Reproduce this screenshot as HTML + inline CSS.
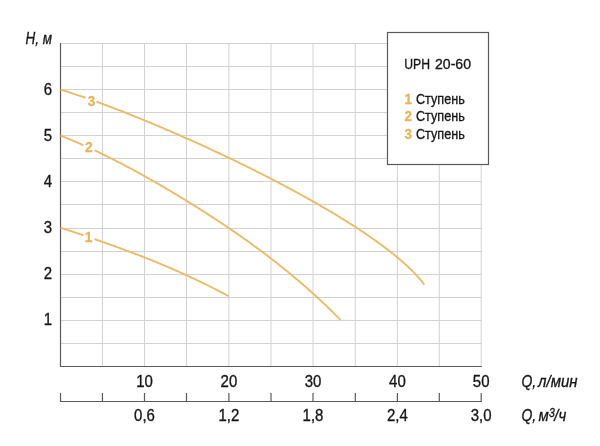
<!DOCTYPE html>
<html><head><meta charset="utf-8"><style>
html,body{margin:0;padding:0;background:#fff;}
svg{display:block;will-change:transform;}
</style></head><body>
<svg width="600" height="446" viewBox="0 0 600 446">
<rect width="600" height="446" fill="#fff"/>
<line x1="102.45" y1="43.00" x2="102.45" y2="366.50" stroke="#d2d2d4" stroke-width="1"/>
<line x1="144.50" y1="43.00" x2="144.50" y2="366.50" stroke="#d2d2d4" stroke-width="1"/>
<line x1="186.50" y1="43.00" x2="186.50" y2="366.50" stroke="#d2d2d4" stroke-width="1"/>
<line x1="228.90" y1="43.00" x2="228.90" y2="366.50" stroke="#d2d2d4" stroke-width="1"/>
<line x1="271.00" y1="43.00" x2="271.00" y2="366.50" stroke="#d2d2d4" stroke-width="1"/>
<line x1="313.00" y1="43.00" x2="313.00" y2="366.50" stroke="#d2d2d4" stroke-width="1"/>
<line x1="355.30" y1="43.00" x2="355.30" y2="366.50" stroke="#d2d2d4" stroke-width="1"/>
<line x1="397.40" y1="43.00" x2="397.40" y2="366.50" stroke="#d2d2d4" stroke-width="1"/>
<line x1="439.30" y1="43.00" x2="439.30" y2="366.50" stroke="#d2d2d4" stroke-width="1"/>
<line x1="481.20" y1="43.00" x2="481.20" y2="366.50" stroke="#d2d2d4" stroke-width="1"/>
<line x1="60.50" y1="43.50" x2="481.70" y2="43.50" stroke="#d2d2d4" stroke-width="1"/>
<line x1="60.50" y1="66.50" x2="481.70" y2="66.50" stroke="#d2d2d4" stroke-width="1"/>
<line x1="60.50" y1="89.50" x2="481.70" y2="89.50" stroke="#d2d2d4" stroke-width="1"/>
<line x1="60.50" y1="112.50" x2="481.70" y2="112.50" stroke="#d2d2d4" stroke-width="1"/>
<line x1="60.50" y1="135.50" x2="481.70" y2="135.50" stroke="#d2d2d4" stroke-width="1"/>
<line x1="60.50" y1="158.50" x2="481.70" y2="158.50" stroke="#d2d2d4" stroke-width="1"/>
<line x1="60.50" y1="181.50" x2="481.70" y2="181.50" stroke="#d2d2d4" stroke-width="1"/>
<line x1="60.50" y1="204.50" x2="481.70" y2="204.50" stroke="#d2d2d4" stroke-width="1"/>
<line x1="60.50" y1="228.50" x2="481.70" y2="228.50" stroke="#d2d2d4" stroke-width="1"/>
<line x1="60.50" y1="251.50" x2="481.70" y2="251.50" stroke="#d2d2d4" stroke-width="1"/>
<line x1="60.50" y1="274.50" x2="481.70" y2="274.50" stroke="#d2d2d4" stroke-width="1"/>
<line x1="60.50" y1="297.50" x2="481.70" y2="297.50" stroke="#d2d2d4" stroke-width="1"/>
<line x1="60.50" y1="320.50" x2="481.70" y2="320.50" stroke="#d2d2d4" stroke-width="1"/>
<line x1="60.50" y1="343.50" x2="481.70" y2="343.50" stroke="#d2d2d4" stroke-width="1"/>
<path d="M60.5,43.0 V366.5 H481.7" fill="none" stroke="#5a5a5a" stroke-width="1.2"/>
<path d="M60.50,393 V401.5 M102.45,393 V401.5 M144.50,393 V401.5 M186.50,393 V401.5 M228.90,393 V401.5 M271.00,393 V401.5 M313.00,393 V401.5 M355.30,393 V401.5 M397.40,393 V401.5 M439.30,393 V401.5 M481.20,393 V401.5  M59.9,401.5 H481.8" fill="none" stroke="#5a5a5a" stroke-width="1.2"/>
<g fill="none" stroke="#eabb68" stroke-width="1.9">
<path d="M60.50,89.60 L61.15,89.80 L61.81,89.99 L62.48,90.20 L63.15,90.40 L63.83,90.61 L64.51,90.82 L65.19,91.03 L65.88,91.24 L66.58,91.46 L67.28,91.68 L67.99,91.90 L68.70,92.13 L69.41,92.36 L70.13,92.59 L70.86,92.82 L71.59,93.06 L72.32,93.30 L73.06,93.54 L73.80,93.79 L74.55,94.03 L75.31,94.28 L76.07,94.53 L76.83,94.79 L77.59,95.05 L78.37,95.31 L79.14,95.57 L79.92,95.83 L80.71,96.10 L81.50,96.37 L82.29,96.64 L83.09,96.92 L83.89,97.20 L84.70,97.48 L85.51,97.76 M96.43,101.65 L97.30,101.97 L98.17,102.29 L99.05,102.61 L99.92,102.93 L100.81,103.26 L101.69,103.59 L102.58,103.92 L103.48,104.25 L104.38,104.58 L105.28,104.92 L106.18,105.26 L107.09,105.60 L108.00,105.94 L108.92,106.29 L109.83,106.64 L110.76,106.99 L111.68,107.34 L112.61,107.69 L113.54,108.05 L114.48,108.41 L115.42,108.77 L116.36,109.13 L117.30,109.50 L118.25,109.87 L119.20,110.23 L120.16,110.61 L121.11,110.98 L122.07,111.36 L123.04,111.73 L124.00,112.11 L124.97,112.49 L125.95,112.88 L126.92,113.26 L127.90,113.65 L128.88,114.04 L129.86,114.43 L130.85,114.83 L131.84,115.22 L132.83,115.62 L133.83,116.02 L134.82,116.42 L135.82,116.82 L136.83,117.23 L137.83,117.64 L138.84,118.05 L139.85,118.46 L140.86,118.87 L141.88,119.28 L142.89,119.70 L143.91,120.12 L144.94,120.54 L145.96,120.96 L146.99,121.39 L148.02,121.81 L149.05,122.24 L150.08,122.67 L151.12,123.10 L152.16,123.53 L153.20,123.97 L154.24,124.40 L155.28,124.84 L156.33,125.28 L157.38,125.72 L158.43,126.17 L159.48,126.61 L160.54,127.06 L161.59,127.51 L162.65,127.96 L163.71,128.41 L164.77,128.86 L165.84,129.32 L166.90,129.77 L167.97,130.23 L169.04,130.69 L170.11,131.15 L171.18,131.61 L172.25,132.08 L173.33,132.55 L174.40,133.01 L175.48,133.48 L176.56,133.95 L177.64,134.42 L178.73,134.90 L179.81,135.37 L180.89,135.85 L181.98,136.33 L183.07,136.81 L184.16,137.29 L185.25,137.77 L186.34,138.26 L187.43,138.74 L188.53,139.23 L189.62,139.72 L190.72,140.21 L191.81,140.70 L192.91,141.19 L194.01,141.68 L195.11,142.18 L196.21,142.68 L197.32,143.17 L198.42,143.67 L199.52,144.17 L200.63,144.68 L201.73,145.18 L202.84,145.68 L203.95,146.19 L205.05,146.70 L206.16,147.21 L207.27,147.72 L208.38,148.23 L209.49,148.74 L210.60,149.25 L211.71,149.77 L212.82,150.28 L213.94,150.80 L215.05,151.32 L216.16,151.84 L217.28,152.36 L218.39,152.88 L219.50,153.40 L220.62,153.93 L221.73,154.45 L222.85,154.98 L223.96,155.51 L225.08,156.03 L226.19,156.56 L227.31,157.09 L228.43,157.63 L229.54,158.16 L230.66,158.69 L231.77,159.23 L232.89,159.76 L234.00,160.30 L235.12,160.84 L236.23,161.38 L237.35,161.92 L238.47,162.46 L239.58,163.00 L240.70,163.54 L241.81,164.08 L242.92,164.63 L244.04,165.17 L245.15,165.72 L246.26,166.27 L247.38,166.82 L248.49,167.37 L249.60,167.92 L250.71,168.47 L251.82,169.02 L252.93,169.57 L254.04,170.12 L255.15,170.68 L256.26,171.23 L257.37,171.79 L258.47,172.35 L259.58,172.90 L260.68,173.46 L261.79,174.02 L262.89,174.58 L264.00,175.14 L265.10,175.70 L266.20,176.26 L267.30,176.83 L268.40,177.39 L269.50,177.95 L270.59,178.52 L271.69,179.08 L272.78,179.65 L273.88,180.22 L274.97,180.79 L276.06,181.35 L277.15,181.92 L278.24,182.49 L279.33,183.06 L280.41,183.63 L281.50,184.20 L282.58,184.77 L283.67,185.35 L284.75,185.92 L285.83,186.49 L286.90,187.07 L287.98,187.64 L289.06,188.22 L290.13,188.79 L291.20,189.37 L292.27,189.94 L293.34,190.52 L294.41,191.10 L295.47,191.68 L296.53,192.25 L297.59,192.83 L298.65,193.41 L299.71,193.99 L300.77,194.57 L301.82,195.15 L302.87,195.73 L303.92,196.31 L304.97,196.89 L306.02,197.48 L307.06,198.06 L308.10,198.64 L309.14,199.22 L310.18,199.81 L311.22,200.39 L312.25,200.97 L313.28,201.56 L314.31,202.14 L315.34,202.73 L316.36,203.31 L317.38,203.90 L318.40,204.48 L319.42,205.07 L320.44,205.65 L321.45,206.24 L322.46,206.82 L323.47,207.41 L324.47,208.00 L325.47,208.58 L326.47,209.17 L327.47,209.76 L328.46,210.35 L329.46,210.93 L330.44,211.52 L331.43,212.11 L332.41,212.69 L333.39,213.28 L334.37,213.87 L335.35,214.46 L336.32,215.05 L337.29,215.63 L338.25,216.22 L339.22,216.81 L340.18,217.40 L341.13,217.99 L342.09,218.57 L343.04,219.16 L343.99,219.75 L344.93,220.34 L345.87,220.92 L346.81,221.51 L347.74,222.10 L348.68,222.69 L349.60,223.28 L350.53,223.86 L351.45,224.45 L352.37,225.04 L353.28,225.62 L354.19,226.21 L355.10,226.80 L356.00,227.39 L356.91,227.97 L357.80,228.56 L358.70,229.14 L359.59,229.73 L360.47,230.32 L361.35,230.90 L362.23,231.49 L363.11,232.07 L363.98,232.66 L364.84,233.24 L365.71,233.83 L366.57,234.41 L367.42,234.99 L368.27,235.58 L369.12,236.16 L369.97,236.74 L370.81,237.33 L371.64,237.91 L372.47,238.49 L373.30,239.07 L374.12,239.65 L374.94,240.23 L375.76,240.81 L376.57,241.39 L377.37,241.97 L378.18,242.55 L378.97,243.13 L379.77,243.71 L380.56,244.29 L381.34,244.87 L382.12,245.44 L382.90,246.02 L383.67,246.59 L384.43,247.17 L385.19,247.75 L385.95,248.32 L386.70,248.89 L387.45,249.47 L388.20,250.04 L388.94,250.61 L389.67,251.18 L390.40,251.76 L391.12,252.33 L391.84,252.90 L392.56,253.47 L393.27,254.03 L393.97,254.60 L394.67,255.17 L395.37,255.74 L396.06,256.30 L396.74,256.87 L397.42,257.43 L398.10,258.00 L398.77,258.56 L399.43,259.12 L400.09,259.69 L400.74,260.25 L401.39,260.81 L402.04,261.37 L402.67,261.93 L403.31,262.49 L403.93,263.04 L404.56,263.60 L405.17,264.16 L405.79,264.71 L406.39,265.27 L406.99,265.82 L407.59,266.37 L408.18,266.92 L408.76,267.48 L409.34,268.03 L409.91,268.58 L410.48,269.12 L411.04,269.67 L411.59,270.22 L412.14,270.76 L412.68,271.31 L413.22,271.85 L413.75,272.40 L414.28,272.94 L414.80,273.48 L415.31,274.02 L415.82,274.56 L416.32,275.10 L416.82,275.63 L417.31,276.17 L417.79,276.70 L418.27,277.24 L418.74,277.77 L419.21,278.30 L419.67,278.83 L420.12,279.36 L420.57,279.89 L421.01,280.42 L421.44,280.95 L421.87,281.47 L422.29,282.00 L422.71,282.52 L423.11,283.04 L423.52,283.56 L423.91,284.08 L424.30,284.60"/>
<path d="M60.50,135.64 L61.50,136.02 L62.50,136.41 L63.50,136.80 L64.50,137.20 L65.50,137.59 L66.50,137.99 L67.50,138.40 L68.50,138.80 L69.50,139.21 L70.50,139.62 L71.50,140.04 L72.50,140.45 L73.50,140.87 L74.50,141.30 L75.50,141.72 L76.50,142.15 L77.50,142.58 L78.50,143.01 L79.50,143.45 L80.50,143.88 L81.50,144.32 L82.50,144.77 L83.50,145.21 M94.50,150.26 L95.50,150.73 L96.50,151.20 L97.50,151.68 L98.50,152.16 L99.50,152.64 L100.50,153.12 L101.50,153.60 L102.50,154.09 L103.50,154.58 L104.50,155.07 L105.50,155.56 L106.50,156.05 L107.50,156.55 L108.50,157.05 L109.50,157.55 L110.50,158.05 L111.50,158.55 L112.50,159.06 L113.50,159.57 L114.50,160.08 L115.50,160.59 L116.50,161.10 L117.50,161.61 L118.50,162.13 L119.50,162.65 L120.50,163.17 L121.50,163.69 L122.50,164.21 L123.50,164.74 L124.50,165.26 L125.50,165.79 L126.50,166.32 L127.50,166.85 L128.50,167.38 L129.50,167.92 L130.50,168.45 L131.50,168.99 L132.50,169.53 L133.50,170.07 L134.50,170.61 L135.50,171.16 L136.50,171.70 L137.50,172.25 L138.50,172.80 L139.50,173.35 L140.50,173.90 L141.50,174.45 L142.50,175.01 L143.50,175.56 L144.50,176.12 L145.50,176.68 L146.50,177.24 L147.50,177.80 L148.50,178.36 L149.50,178.93 L150.50,179.49 L151.50,180.06 L152.50,180.63 L153.50,181.20 L154.50,181.77 L155.50,182.34 L156.50,182.92 L157.50,183.49 L158.50,184.07 L159.50,184.65 L160.50,185.22 L161.50,185.81 L162.50,186.39 L163.50,186.97 L164.50,187.56 L165.50,188.14 L166.50,188.73 L167.50,189.32 L168.50,189.91 L169.50,190.50 L170.50,191.09 L171.50,191.69 L172.50,192.28 L173.50,192.88 L174.50,193.48 L175.50,194.08 L176.50,194.68 L177.50,195.28 L178.50,195.88 L179.50,196.49 L180.50,197.10 L181.50,197.70 L182.50,198.31 L183.50,198.92 L184.50,199.53 L185.50,200.15 L186.50,200.76 L187.50,201.38 L188.50,201.99 L189.50,202.61 L190.50,203.23 L191.50,203.85 L192.50,204.48 L193.50,205.10 L194.50,205.73 L195.50,206.35 L196.50,206.98 L197.50,207.61 L198.50,208.24 L199.50,208.87 L200.50,209.51 L201.50,210.14 L202.50,210.78 L203.50,211.42 L204.50,212.06 L205.50,212.70 L206.50,213.34 L207.50,213.99 L208.50,214.63 L209.50,215.28 L210.50,215.93 L211.50,216.58 L212.50,217.23 L213.50,217.88 L214.50,218.54 L215.50,219.19 L216.50,219.85 L217.50,220.51 L218.50,221.17 L219.50,221.83 L220.50,222.50 L221.50,223.16 L222.50,223.83 L223.50,224.50 L224.50,225.17 L225.50,225.84 L226.50,226.52 L227.50,227.19 L228.50,227.87 L229.50,228.55 L230.50,229.23 L231.50,229.92 L232.50,230.60 L233.50,231.29 L234.50,231.98 L235.50,232.67 L236.50,233.36 L237.50,234.05 L238.50,234.75 L239.50,235.45 L240.50,236.14 L241.50,236.85 L242.50,237.55 L243.50,238.26 L244.50,238.96 L245.50,239.67 L246.50,240.38 L247.50,241.10 L248.50,241.81 L249.50,242.53 L250.50,243.25 L251.50,243.97 L252.50,244.70 L253.50,245.42 L254.50,246.15 L255.50,246.88 L256.50,247.61 L257.50,248.35 L258.50,249.09 L259.50,249.83 L260.50,250.57 L261.50,251.31 L262.50,252.06 L263.50,252.81 L264.50,253.56 L265.50,254.31 L266.50,255.07 L267.50,255.83 L268.50,256.59 L269.50,257.36 L270.50,258.12 L271.50,258.89 L272.50,259.66 L273.50,260.44 L274.50,261.21 L275.50,261.99 L276.50,262.78 L277.50,263.56 L278.50,264.35 L279.50,265.14 L280.50,265.93 L281.50,266.73 L282.50,267.53 L283.50,268.33 L284.50,269.14 L285.50,269.94 L286.50,270.76 L287.50,271.57 L288.50,272.39 L289.50,273.21 L290.50,274.03 L291.50,274.86 L292.50,275.69 L293.50,276.52 L294.50,277.36 L295.50,278.20 L296.50,279.04 L297.50,279.88 L298.50,280.73 L299.50,281.59 L300.50,282.44 L301.50,283.30 L302.50,284.17 L303.50,285.03 L304.50,285.90 L305.50,286.78 L306.50,287.66 L307.50,288.54 L308.50,289.42 L309.50,290.31 L310.50,291.20 L311.50,292.10 L312.50,293.00 L313.50,293.90 L314.50,294.81 L315.50,295.72 L316.50,296.64 L317.50,297.56 L318.50,298.49 L319.50,299.41 L320.50,300.35 L321.50,301.28 L322.50,302.22 L323.50,303.17 L324.50,304.12 L325.50,305.07 L326.50,306.03 L327.50,306.99 L328.50,307.96 L329.50,308.93 L330.50,309.91 L331.50,310.89 L332.50,311.87 L333.50,312.86 L334.50,313.86 L335.50,314.86 L336.50,315.86 L337.50,316.87 L338.50,317.89 L339.50,318.91 L340.50,319.93 L340.60,320.03"/>
<path d="M60.50,227.72 L61.50,228.05 L62.50,228.37 L63.50,228.70 L64.50,229.03 L65.50,229.35 L66.50,229.68 L67.50,230.01 L68.50,230.34 L69.50,230.67 L70.50,230.99 L71.50,231.32 L72.50,231.65 L73.50,231.99 L74.50,232.32 L75.50,232.65 L76.50,232.98 L77.50,233.31 L78.50,233.65 L79.50,233.98 L80.50,234.32 L81.50,234.65 L82.50,234.99 L83.50,235.33 M94.50,239.07 L95.50,239.42 L96.50,239.76 L97.50,240.11 L98.50,240.46 L99.50,240.80 L100.50,241.15 L101.50,241.50 L102.50,241.85 L103.50,242.20 L104.50,242.56 L105.50,242.91 L106.50,243.26 L107.50,243.62 L108.50,243.97 L109.50,244.33 L110.50,244.69 L111.50,245.04 L112.50,245.40 L113.50,245.76 L114.50,246.12 L115.50,246.49 L116.50,246.85 L117.50,247.21 L118.50,247.58 L119.50,247.94 L120.50,248.31 L121.50,248.68 L122.50,249.05 L123.50,249.42 L124.50,249.79 L125.50,250.16 L126.50,250.53 L127.50,250.91 L128.50,251.28 L129.50,251.66 L130.50,252.04 L131.50,252.41 L132.50,252.79 L133.50,253.17 L134.50,253.56 L135.50,253.94 L136.50,254.32 L137.50,254.71 L138.50,255.10 L139.50,255.48 L140.50,255.87 L141.50,256.26 L142.50,256.66 L143.50,257.05 L144.50,257.44 L145.50,257.84 L146.50,258.23 L147.50,258.63 L148.50,259.03 L149.50,259.43 L150.50,259.83 L151.50,260.24 L152.50,260.64 L153.50,261.05 L154.50,261.45 L155.50,261.86 L156.50,262.27 L157.50,262.68 L158.50,263.10 L159.50,263.51 L160.50,263.93 L161.50,264.34 L162.50,264.76 L163.50,265.18 L164.50,265.60 L165.50,266.03 L166.50,266.45 L167.50,266.88 L168.50,267.30 L169.50,267.73 L170.50,268.16 L171.50,268.59 L172.50,269.03 L173.50,269.46 L174.50,269.90 L175.50,270.34 L176.50,270.78 L177.50,271.22 L178.50,271.66 L179.50,272.11 L180.50,272.55 L181.50,273.00 L182.50,273.45 L183.50,273.90 L184.50,274.35 L185.50,274.81 L186.50,275.26 L187.50,275.72 L188.50,276.18 L189.50,276.64 L190.50,277.11 L191.50,277.57 L192.50,278.04 L193.50,278.51 L194.50,278.98 L195.50,279.45 L196.50,279.92 L197.50,280.40 L198.50,280.87 L199.50,281.35 L200.50,281.83 L201.50,282.32 L202.50,282.80 L203.50,283.29 L204.50,283.78 L205.50,284.27 L206.50,284.76 L207.50,285.25 L208.50,285.75 L209.50,286.25 L210.50,286.75 L211.50,287.25 L212.50,287.75 L213.50,288.26 L214.50,288.77 L215.50,289.28 L216.50,289.79 L217.50,290.30 L218.50,290.82 L219.50,291.34 L220.50,291.86 L221.50,292.38 L222.50,292.90 L223.50,293.43 L224.50,293.96 L225.50,294.49 L226.50,295.02 L227.50,295.55 L228.50,296.09 L228.70,296.20"/>
</g>
<g font-family="'Liberation Sans', sans-serif">
<text transform="translate(91.40,105.50) scale(0.9,0.97)" font-size="15" text-anchor="middle" font-style="normal" font-weight="bold" fill="#e9b45a" stroke="#e9b45a" stroke-width="0.3">3</text>
<text transform="translate(88.90,152.40) scale(0.92,1.01)" font-size="15" text-anchor="middle" font-style="normal" font-weight="bold" fill="#e9b45a" stroke="#e9b45a" stroke-width="0.3">2</text>
<text transform="translate(88.70,241.80) scale(0.92,0.97)" font-size="15" text-anchor="middle" font-style="normal" font-weight="bold" fill="#e9b45a" stroke="#e9b45a" stroke-width="0.3">1</text>
</g>
<g font-family="'Liberation Sans', sans-serif">
<text transform="translate(52.00,324.64) scale(1.0,1.08)" font-size="15" text-anchor="end" font-style="normal" font-weight="normal" fill="#161616" stroke="#161616" stroke-width="0.3">1</text>
<text transform="translate(52.00,279.40) scale(1.0,1.08)" font-size="15" text-anchor="end" font-style="normal" font-weight="normal" fill="#161616" stroke="#161616" stroke-width="0.3">2</text>
<text transform="translate(52.00,233.26) scale(1.0,1.08)" font-size="15" text-anchor="end" font-style="normal" font-weight="normal" fill="#161616" stroke="#161616" stroke-width="0.3">3</text>
<text transform="translate(52.00,187.12) scale(1.0,1.08)" font-size="15" text-anchor="end" font-style="normal" font-weight="normal" fill="#161616" stroke="#161616" stroke-width="0.3">4</text>
<text transform="translate(52.00,140.98) scale(1.0,1.08)" font-size="15" text-anchor="end" font-style="normal" font-weight="normal" fill="#161616" stroke="#161616" stroke-width="0.3">5</text>
<text transform="translate(52.00,94.84) scale(1.0,1.08)" font-size="15" text-anchor="end" font-style="normal" font-weight="normal" fill="#161616" stroke="#161616" stroke-width="0.3">6</text>
<text transform="translate(52.00,43.90) scale(0.9,1.06)" font-size="15" text-anchor="end" font-style="italic" font-weight="normal" fill="#161616" stroke="#161616" stroke-width="0.3">H, м</text>
<text transform="translate(144.50,386.60) scale(1.0,1.07)" font-size="15" text-anchor="middle" font-style="normal" font-weight="normal" fill="#161616" stroke="#161616" stroke-width="0.3">10</text>
<text transform="translate(228.90,386.60) scale(1.0,1.07)" font-size="15" text-anchor="middle" font-style="normal" font-weight="normal" fill="#161616" stroke="#161616" stroke-width="0.3">20</text>
<text transform="translate(313.00,386.60) scale(1.0,1.07)" font-size="15" text-anchor="middle" font-style="normal" font-weight="normal" fill="#161616" stroke="#161616" stroke-width="0.3">30</text>
<text transform="translate(397.40,386.60) scale(1.0,1.07)" font-size="15" text-anchor="middle" font-style="normal" font-weight="normal" fill="#161616" stroke="#161616" stroke-width="0.3">40</text>
<text transform="translate(481.20,386.60) scale(1.0,1.07)" font-size="15" text-anchor="middle" font-style="normal" font-weight="normal" fill="#161616" stroke="#161616" stroke-width="0.3">50</text>
<text transform="translate(144.50,421.10) scale(1.0,1.06)" font-size="15" text-anchor="middle" font-style="normal" font-weight="normal" fill="#161616" stroke="#161616" stroke-width="0.3">0,6</text>
<text transform="translate(228.90,421.10) scale(1.0,1.06)" font-size="15" text-anchor="middle" font-style="normal" font-weight="normal" fill="#161616" stroke="#161616" stroke-width="0.3">1,2</text>
<text transform="translate(313.00,421.10) scale(1.0,1.06)" font-size="15" text-anchor="middle" font-style="normal" font-weight="normal" fill="#161616" stroke="#161616" stroke-width="0.3">1,8</text>
<text transform="translate(397.40,421.10) scale(1.0,1.06)" font-size="15" text-anchor="middle" font-style="normal" font-weight="normal" fill="#161616" stroke="#161616" stroke-width="0.3">2,4</text>
<text transform="translate(481.20,421.10) scale(1.0,1.06)" font-size="15" text-anchor="middle" font-style="normal" font-weight="normal" fill="#161616" stroke="#161616" stroke-width="0.3">3,0</text>
<text transform="translate(521.50,386.80) scale(0.93,1.08)" font-size="15" text-anchor="start" font-style="italic" font-weight="normal" fill="#161616" stroke="#161616" stroke-width="0.3">Q,</text>
<text transform="translate(538.00,386.80) scale(1.0,1.08)" font-size="15" text-anchor="start" font-style="italic" font-weight="normal" fill="#161616" stroke="#161616" stroke-width="0.3">л/мин</text>
<text transform="translate(521.50,421.40) scale(0.93,1.08)" font-size="15" text-anchor="start" font-style="italic" font-weight="normal" fill="#161616" stroke="#161616" stroke-width="0.3">Q,</text>
<text transform="translate(538.40,421.40) scale(1.0,1.08)" font-size="15" text-anchor="start" font-style="italic" font-weight="normal" fill="#161616" stroke="#161616" stroke-width="0.3">м</text>
<text transform="translate(549.00,416.60) scale(0.95,1.08)" font-size="11" text-anchor="start" font-style="italic" font-weight="normal" fill="#161616" stroke="#161616" stroke-width="0.3">3</text>
<text transform="translate(554.30,421.40) scale(1.0,1.08)" font-size="15" text-anchor="start" font-style="italic" font-weight="normal" fill="#161616" stroke="#161616" stroke-width="0.3">/ч</text>
</g>
<rect x="387.5" y="32.5" width="101" height="132" fill="#fff" stroke="#5a5a5a" stroke-width="1.2"/>
<g font-family="'Liberation Sans', sans-serif">
<text transform="translate(404.30,68.90) scale(0.91,1.06)" font-size="13.4" text-anchor="start" font-style="normal" font-weight="normal" fill="#161616" stroke="#161616" stroke-width="0.3">UPH</text>
<text transform="translate(435.00,68.90) scale(1.05,1.06)" font-size="13.4" text-anchor="start" font-style="normal" font-weight="normal" fill="#161616" stroke="#161616" stroke-width="0.3">20-60</text>
<text transform="translate(404.60,104.00) scale(1.0,1.08)" font-size="13.4" text-anchor="start" font-style="normal" font-weight="bold" fill="#e9b45a" stroke="#e9b45a" stroke-width="0.3">1</text>
<text transform="translate(415.90,104.00) scale(0.945,1.08)" font-size="13.4" text-anchor="start" font-style="normal" font-weight="normal" fill="#161616" stroke="#161616" stroke-width="0.3">Ступень</text>
<text transform="translate(404.60,121.35) scale(1.0,1.08)" font-size="13.4" text-anchor="start" font-style="normal" font-weight="bold" fill="#e9b45a" stroke="#e9b45a" stroke-width="0.3">2</text>
<text transform="translate(415.90,121.35) scale(0.945,1.08)" font-size="13.4" text-anchor="start" font-style="normal" font-weight="normal" fill="#161616" stroke="#161616" stroke-width="0.3">Ступень</text>
<text transform="translate(404.60,138.70) scale(1.0,1.08)" font-size="13.4" text-anchor="start" font-style="normal" font-weight="bold" fill="#e9b45a" stroke="#e9b45a" stroke-width="0.3">3</text>
<text transform="translate(415.90,138.70) scale(0.945,1.08)" font-size="13.4" text-anchor="start" font-style="normal" font-weight="normal" fill="#161616" stroke="#161616" stroke-width="0.3">Ступень</text>
</g>
</svg>
</body></html>
